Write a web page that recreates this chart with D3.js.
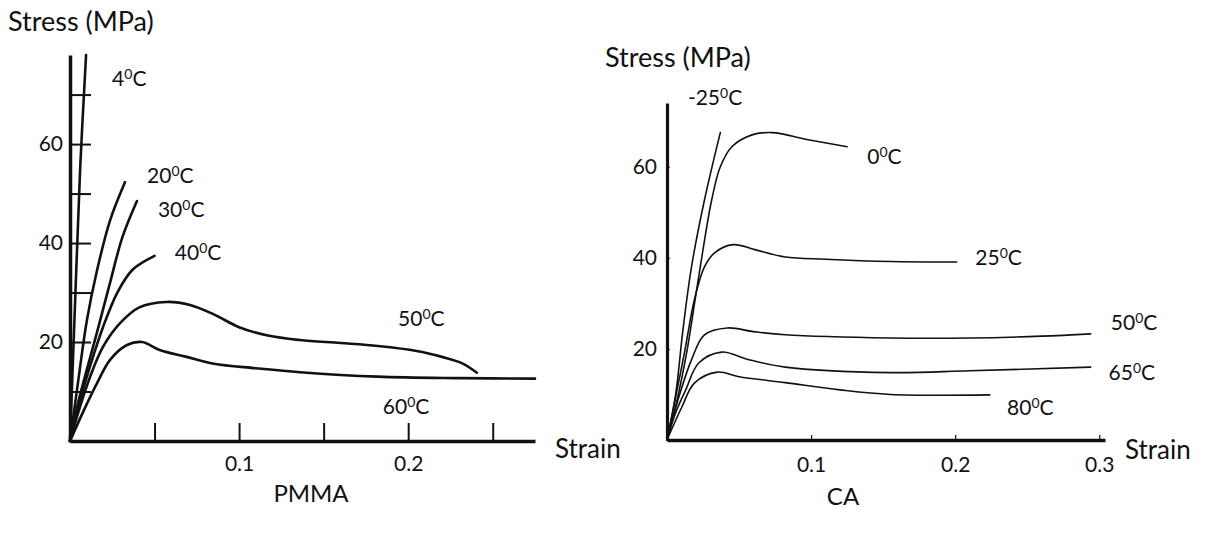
<!DOCTYPE html>
<html>
<head>
<meta charset="utf-8">
<script src="https://cdn.jsdelivr.net/npm/d3@7"></script>
<style>
  body { margin: 0; background: #fff; }
  text { font-family: Lato, "Open Sans", sans-serif; fill: #111; }
  .curve { fill: none; stroke: #111; stroke-linecap: round; stroke-linejoin: round; }
  .axis path, .axis line { stroke: #111; }
</style>
</head>
<body>
<svg id="thesvg" width="1210" height="538"></svg>
<script>
'use strict';

// ---- PMMA (left panel): [strain, stress MPa]
const pmmaTemps = ["4", "20", "30", "40", "50", "60"];
const pmma4  = [[0,0],[0.003,28],[0.006,55],[0.0095,78]];
const pmma20 = [[0,0],[0.005,12.5],[0.01,24.4],[0.016,34.5],[0.0237,44.6],[0.0325,52.3]];
const pmma30 = [[0,0],[0.005,8],[0.016,22],[0.0237,32],[0.031,41.2],[0.0396,48.5]];
const pmma40 = [[0,0],[0.007,9.5],[0.0136,17],[0.0195,23],[0.028,30],[0.037,34.6],[0.05,37.4]];
const pmma50 = [[0,0],[0.006,7],[0.0118,12.9],[0.0195,19],[0.0296,23.8],[0.041,27],[0.057,28.1],
                [0.071,27.5],[0.085,25.6],[0.1,23],[0.117,21.3],[0.136,20.4],[0.16,19.8],
                [0.182,19.2],[0.205,18.2],[0.22,17],[0.232,15.7],[0.2406,13.8]];
const pmma60 = [[0,0],[0.009,6.8],[0.016,11.7],[0.0237,16.4],[0.0337,19.4],[0.0426,20],[0.053,18.4],
                [0.069,17],[0.085,15.6],[0.11,14.7],[0.136,13.9],[0.182,13],[0.23,12.7],[0.275,12.6]];
const pmmaYTicks = [10, 20, 30, 40, 50, 60, 70];
const pmmaYLabels = [20, 40, 60];
const pmmaXTicks = [0.05, 0.1, 0.15, 0.2, 0.25];
const pmmaXLabels = [0.1, 0.2];

// ---- CA (right panel)
const caTemps = ["-25", "0", "25", "50", "65", "80"];
const caM25 = [[0,0],[0.006,10],[0.011,24],[0.017,38],[0.026,52.7],[0.037,67.5]];
const ca0   = [[0,0],[0.007,8.8],[0.014,19.8],[0.0195,30.8],[0.025,41.8],[0.031,52.7],[0.037,60],
               [0.045,64.4],[0.059,67],[0.073,67.5],[0.097,66],[0.125,64.4]];
const ca25  = [[0,0],[0.0056,8.8],[0.0125,19.8],[0.019,30.8],[0.026,38],[0.033,41.1],[0.046,42.9],
               [0.061,41.8],[0.082,40.2],[0.11,39.7],[0.155,39.2],[0.201,39.1]];
const ca50  = [[0,0],[0.0076,8.8],[0.017,17.6],[0.026,23.1],[0.042,24.6],[0.06,23.8],[0.082,23.1],
               [0.155,22.4],[0.21,22.4],[0.26,22.8],[0.294,23.3]];
const ca65  = [[0,0],[0.006,6],[0.013,11],[0.022,16.9],[0.038,19.3],[0.055,17.8],[0.082,16],
               [0.155,14.8],[0.21,15.2],[0.294,16]];
const ca80  = [[0,0],[0.0104,7.3],[0.019,12.5],[0.035,14.9],[0.05,13.9],[0.082,12.6],[0.12,11],
               [0.155,10],[0.224,9.9]];
const caYLabels = [20, 40, 60];
const caXLabels = [0.1, 0.2, 0.3];

// label anchors in data units (left edge, vertical centre)
const pmmaLabelAt = [[0.0249,73.3],[0.0456,53.7],[0.052,46.7],[0.062,38],[0.194,24.8],[0.185,6.9]];
const caLabelAt   = [[0.0145,75.2],[0.139,62.2],[0.214,40],[0.308,25.7],[0.3065,14.7],[0.236,7]];

var svg = d3.select("#thesvg");

function tempLabel(g, x, y, t) {
  var tx = g.append("text").attr("x", x).attr("y", y).attr("dy", "0.35em")
      .style("font-size", "21px");
  tx.append("tspan").text(t);
  tx.append("tspan").attr("dy", "-0.5em").style("font-size", "14px").text("0");
  tx.append("tspan").attr("dy", "0.33em").text("C");
}

// ================= PMMA =================
var x1 = d3.scaleLinear().domain([0, 0.275]).range([70, 535]),
    y1 = d3.scaleLinear().domain([0, 78]).range([441, 55]);

var line1 = d3.line().x(d => x1(d[0])).y(d => y1(d[1])).curve(d3.curveCatmullRom.alpha(0.5));

var gL = svg.append("g");

gL.append("g")
    .attr("class", "axis")
    .attr("transform", "translate(0," + y1(0) + ")")
    .call(d3.axisBottom(x1).tickValues(pmmaXTicks).tickSize(-18).tickSizeOuter(0).tickPadding(15)
      .tickFormat(d => pmmaXLabels.includes(d) ? d3.format(".1f")(d) : ""))
    .call(g => g.select(".domain").attr("stroke-width", 3.5))
    .call(g => g.selectAll(".tick line").attr("stroke-width", 2))
    .call(g => g.selectAll(".tick text").style("font-size", "21px").attr("fill", "#111"));

gL.append("g")
    .attr("class", "axis")
    .attr("transform", "translate(" + x1(0) + ",0)")
    .call(d3.axisLeft(y1).tickValues(pmmaYTicks).tickSize(-21).tickSizeOuter(0).tickPadding(7)
      .tickFormat(d => pmmaYLabels.includes(d) ? d : ""))
    .call(g => g.select(".domain").attr("stroke-width", 3.5))
    .call(g => g.selectAll(".tick line").attr("stroke-width", 2))
    .call(g => g.selectAll(".tick text").style("font-size", "21px").attr("fill", "#111"));

[pmma4, pmma20, pmma30, pmma40, pmma50, pmma60].forEach(function(d) {
  gL.append("path").datum(d).attr("class", "curve")
    .attr("stroke-width", 2.6).attr("d", line1);
});

pmmaTemps.forEach(function(t, i) {
  tempLabel(gL, x1(pmmaLabelAt[i][0]), y1(pmmaLabelAt[i][1]), t);
});

gL.append("text").attr("x", 8).attr("y", 22).attr("dy", "0.35em")
  .style("font-size", "27px").text("Stress (MPa)");
gL.append("text").attr("x", 555).attr("y", 449).attr("dy", "0.35em")
  .style("font-size", "26px").text("Strain");
gL.append("text").attr("x", 311).attr("y", 494).attr("dy", "0.35em")
  .attr("text-anchor", "middle").style("font-size", "24px").text("PMMA");

// ================= CA =================
var x2 = d3.scaleLinear().domain([0, 0.304]).range([667, 1105]),
    y2 = d3.scaleLinear().domain([0, 74]).range([440, 103]);

var line2 = d3.line().x(d => x2(d[0])).y(d => y2(d[1])).curve(d3.curveCatmullRom.alpha(0.5));

var gR = svg.append("g");

gR.append("g")
    .attr("class", "axis")
    .attr("transform", "translate(0," + y2(0) + ")")
    .call(d3.axisBottom(x2).tickValues(caXLabels).tickSize(-5).tickSizeOuter(0).tickPadding(17)
      .tickFormat(d3.format(".1f")))
    .call(g => g.select(".domain").attr("stroke-width", 3.5))
    .call(g => g.selectAll(".tick line").attr("stroke-width", 1.2))
    .call(g => g.selectAll(".tick text").style("font-size", "21px").attr("fill", "#111"));

gR.append("g")
    .attr("class", "axis")
    .attr("transform", "translate(" + x2(0) + ",0)")
    .call(d3.axisLeft(y2).tickValues(caYLabels).tickSize(-3).tickSizeOuter(0).tickPadding(10))
    .call(g => g.select(".domain").attr("stroke-width", 3.2))
    .call(g => g.selectAll(".tick line").attr("stroke-width", 1))
    .call(g => g.selectAll(".tick text").style("font-size", "21px").attr("fill", "#111"));

[caM25, ca0, ca25, ca50, ca65, ca80].forEach(function(d) {
  gR.append("path").datum(d).attr("class", "curve")
    .attr("stroke-width", 1.6).attr("d", line2);
});

caTemps.forEach(function(t, i) {
  tempLabel(gR, x2(caLabelAt[i][0]), y2(caLabelAt[i][1]), t);
});

gR.append("text").attr("x", 605).attr("y", 58).attr("dy", "0.35em")
  .style("font-size", "27px").text("Stress (MPa)");
gR.append("text").attr("x", 1125).attr("y", 450).attr("dy", "0.35em")
  .style("font-size", "26px").text("Strain");
gR.append("text").attr("x", 843).attr("y", 497).attr("dy", "0.35em")
  .attr("text-anchor", "middle").style("font-size", "24px").text("CA");
</script>
</body>
</html>
